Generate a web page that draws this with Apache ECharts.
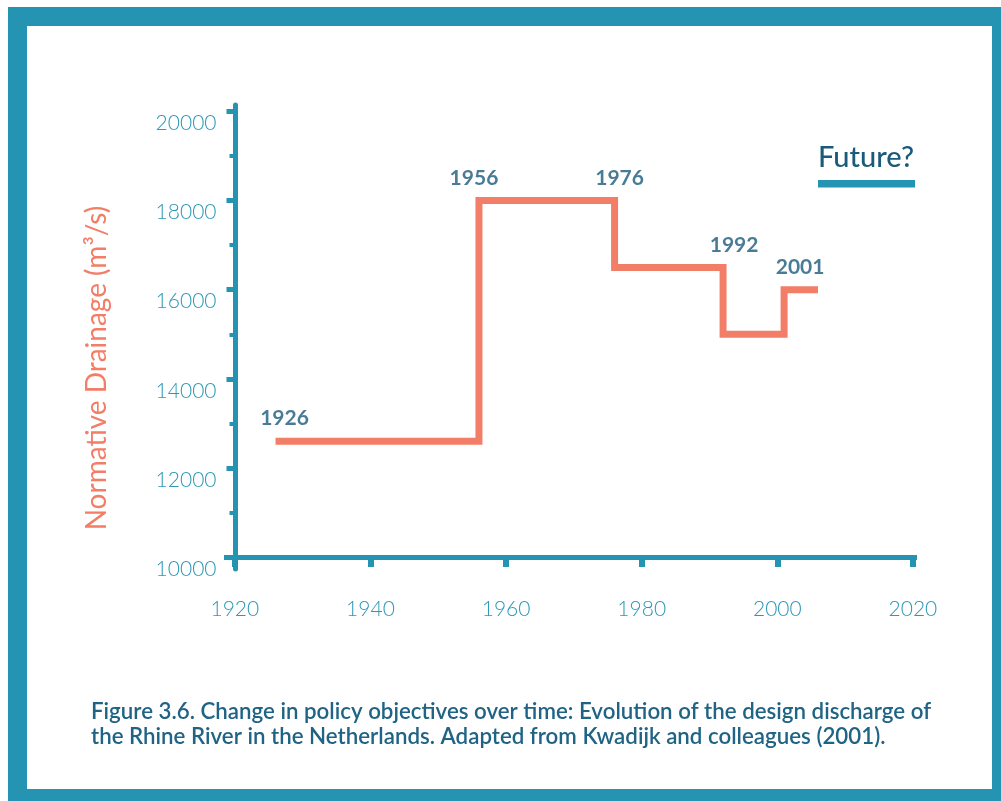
<!DOCTYPE html>
<html>
<head>
<meta charset="utf-8">
<script src="https://cdn.jsdelivr.net/npm/echarts@6/dist/echarts.min.js"></script>
<style>
  html, body { margin: 0; padding: 0; background: #fff; overflow: hidden; }
  #main { width: 1001px; height: 801px; }
</style>
</head>
<body>
<div id="main"></div>
<script>
// step points: year the objective changed and the design discharge (m3/s)
const years = [1926, 1956, 1976, 1992, 2001, 2006];
const discharge = [12600, 18000, 16500, 15000, 16000, 16000];
// the labelled change years (last point is just the end of the line)
const changeLabels = ['1926', '1956', '1976', '1992', '2001'];

const yMajorTicks = [10000, 12000, 14000, 16000, 18000, 20000];
const yMinorTicks = [11000, 13000, 15000, 17000, 19000];
const xTicks = [1920, 1940, 1960, 1980, 2000, 2020];

const teal = '#2593b2';
const tealText = '#2b98b6';
const darkTeal = '#1a5a7a';
const salmon = '#f27e67';

// label sits on top of each step (higher of the two levels)
const labelPoints = changeLabels.map((name, i) => {
  const level = i > 0 ? Math.max(discharge[i - 1], discharge[i]) : discharge[i];
  return [years[i], level, name];
});
const labelShift = [9, -5, 5, 11, 16];

const chart = echarts.init(document.getElementById('main'));

const option = {
  backgroundColor: '#fff',
  animation: false,
  grid: { left: 224, right: 84, top: 105, bottom: 232 },
  xAxis: {
    type: 'value',
    min: 1918.4,
    max: 2020.6,
    offset: -12,
    splitLine: { show: false },
    axisLine: { show: true, lineStyle: { color: teal, width: 5, cap: 'butt' } },
    axisTick: {
      show: true,
      customValues: xTicks,
      length: 10,
      lineStyle: { color: teal, width: 6 }
    },
    axisLabel: {
      customValues: xTicks,
      formatter: (v) => String(v),
      margin: 42,
      color: tealText,
      fontSize: 21,
      fontFamily: 'Lato',
      fontWeight: 300
    }
  },
  yAxis: [
    {
      type: 'value',
      min: 9731,
      max: 20146,
      offset: -11.5,
      splitLine: { show: false },
      axisLine: { show: true, lineStyle: { color: teal, width: 5 } },
      axisTick: {
        show: true,
        customValues: yMajorTicks,
        length: 9,
        lineStyle: { color: teal, width: 5 }
      },
      axisLabel: {
        customValues: yMajorTicks,
        formatter: (v) => String(v),
        margin: 19,
        color: tealText,
        fontSize: 21,
        fontFamily: 'Lato',
        fontWeight: 300,
        verticalAlign: 'top',
        lineHeight: 24
      }
    },
    {
      type: 'value',
      min: 9731,
      max: 20146,
      offset: -11.5,
      position: 'left',
      splitLine: { show: false },
      axisLine: { show: false },
      axisTick: {
        show: true,
        customValues: yMinorTicks,
        length: 6,
        lineStyle: { color: teal, width: 4 }
      },
      axisLabel: { show: false }
    }
  ],
  series: [
    {
      type: 'line',
      step: 'end',
      data: years.map((y, i) => [y, discharge[i]]),
      showSymbol: false,
      lineStyle: { color: salmon, width: 7, join: 'miter', cap: 'butt' },
      z: 3
    },
    {
      type: 'scatter',
      symbolSize: 0,
      data: labelPoints.map((p, i) => ({
        value: p,
        label: { offset: [labelShift[i], 0] }
      })),
      label: {
        show: true,
        position: 'top',
        distance: 12,
        formatter: (p) => p.value[2],
        color: darkTeal,
        fontSize: 21,
        fontFamily: 'Lato',
        fontWeight: 700
      },
      z: 4
    }
  ],
  graphic: [
    {
      type: 'rect',
      shape: { x: 17.5, y: 16.5, width: 984, height: 782 },
      style: { fill: 'none', stroke: teal, lineWidth: 19 },
      z: 10
    },
    {
      type: 'text',
      x: 97,
      y: 368,
      rotation: Math.PI / 2,
      style: {
        text: 'Normative Drainage (m³/s)',
        fill: salmon,
        font: '400 28px Lato',
        align: 'center',
        verticalAlign: 'middle'
      }
    },
    {
      type: 'text',
      x: 818,
      y: 158,
      style: {
        text: 'Future?',
        fill: darkTeal,
        font: '500 29px Lato',
        align: 'left',
        verticalAlign: 'middle'
      }
    },
    {
      type: 'rect',
      shape: { x: 818, y: 180, width: 97, height: 7.5 },
      style: { fill: teal }
    },
    {
      type: 'text',
      x: 91,
      y: 699,
      style: {
        text: 'Figure 3.6. Change in policy objectives over time: Evolution of the design discharge of\nthe Rhine River in the Netherlands. Adapted from Kwadijk and colleagues (2001).',
        fill: '#1f6385',
        font: '600 22.3px Lato',
        lineHeight: 25.5,
        align: 'left',
        verticalAlign: 'top'
      }
    }
  ]
};

chart.setOption(option);
</script>
</body>
</html>
